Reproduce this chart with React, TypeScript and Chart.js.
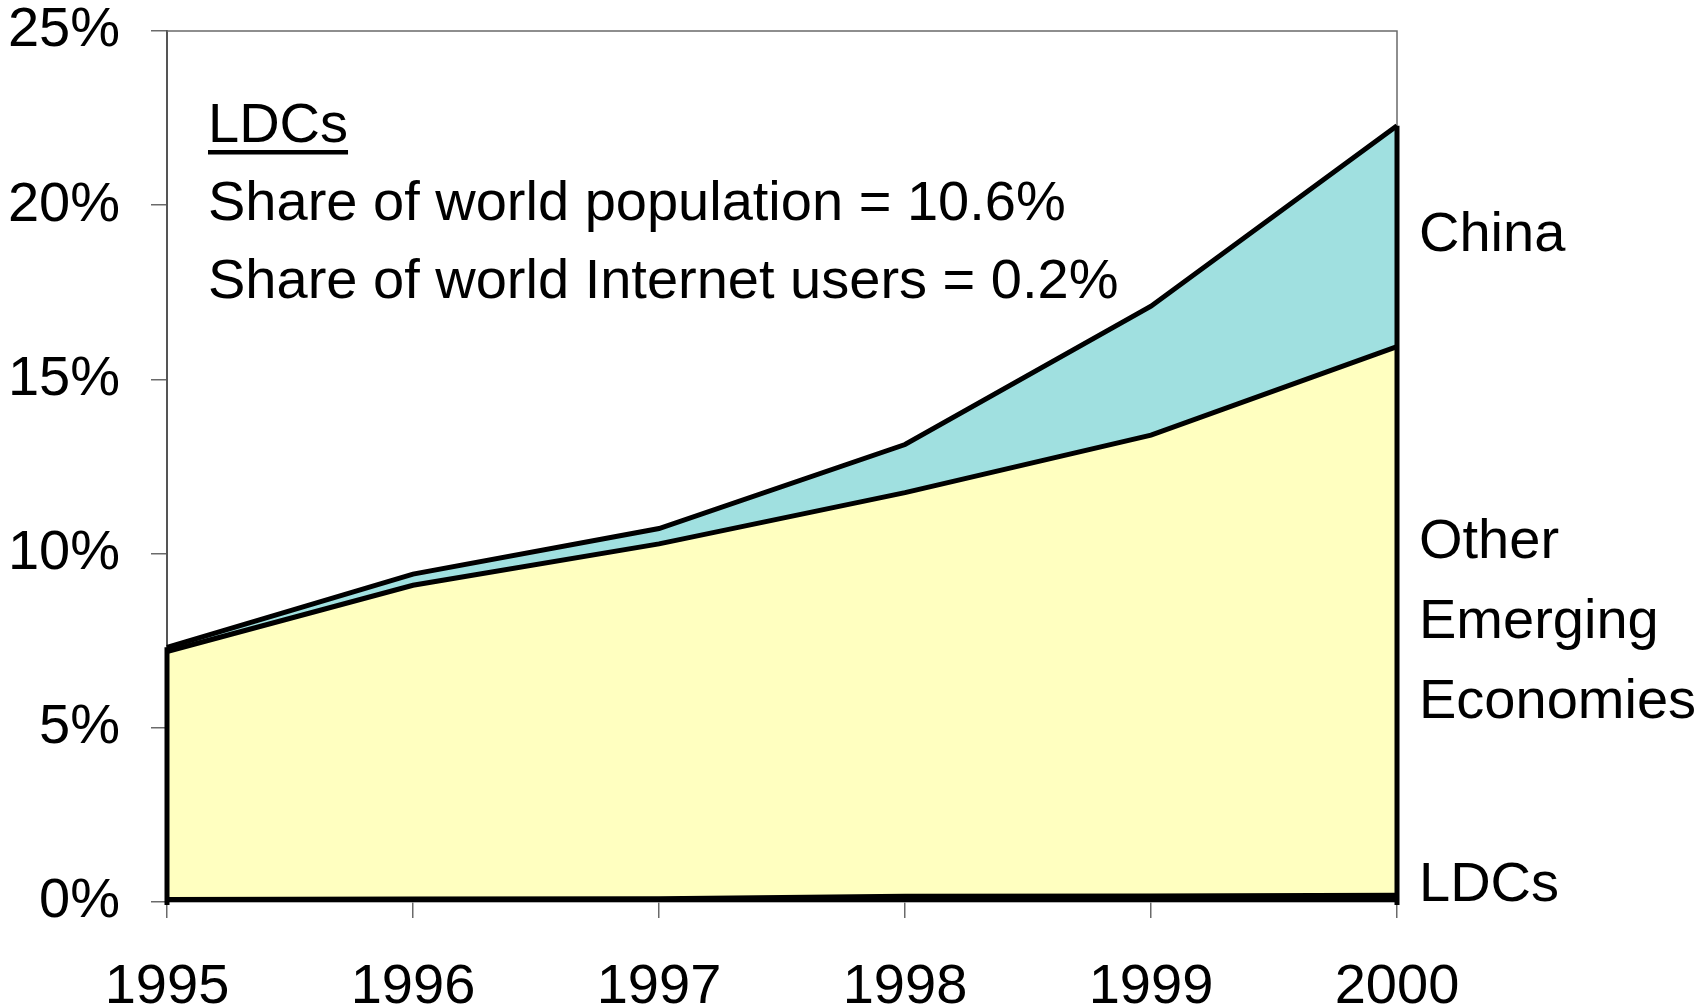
import React, { useEffect, useRef } from "react";
import { Chart, registerables } from "chart.js";

Chart.register(...registerables);

const years = ["1995", "1996", "1997", "1998", "1999", "2000"];
const ldcs = [0.03, 0.04, 0.05, 0.12, 0.13, 0.15];
const otherEmerging = [7.16, 9.05, 10.23, 11.63, 13.27, 15.79];
const china = [0.12, 0.32, 0.44, 1.38, 3.7, 6.34];
const yMax = 25;
const yStep = 5;

const noteTitle = "LDCs";
const noteLines = [
  "Share of world population = 10.6%",
  "Share of world Internet users = 0.2%",
];
const seriesLabels = [
  { text: ["China"], dy: 220 },
  { text: ["Other", "Emerging", "Economies"], dy: 527 },
  { text: ["LDCs"], dy: 870 },
];

const FONT = "'Liberation Sans', Arial, sans-serif";
const FS = 56;
const CANVAS_H = 1030;

const framePlugin = {
  id: "frame",
  beforeDatasetsDraw(chart: any) {
    const { ctx, chartArea: a } = chart;
    ctx.save();
    ctx.strokeStyle = "#6a6a6a";
    ctx.lineWidth = 1.5;
    ctx.beginPath();
    ctx.moveTo(a.left, a.top);
    ctx.lineTo(a.right, a.top);
    ctx.lineTo(a.right, a.bottom);
    ctx.stroke();
    ctx.restore();
  },
  afterDatasetsDraw(chart: any) {
    const { ctx } = chart;
    const xs = chart.scales.x;
    const ys = chart.scales.y;
    ctx.save();
    ctx.strokeStyle = "#000";
    ctx.lineWidth = 5;
    ctx.lineCap = "butt";
    [0, years.length - 1].forEach((i) => {
      const total = ldcs[i] + otherEmerging[i] + china[i];
      const px = xs.getPixelForValue(i);
      ctx.beginPath();
      ctx.moveTo(px, ys.getPixelForValue(0) + 3);
      ctx.lineTo(px, ys.getPixelForValue(total));
      ctx.stroke();
    });
    ctx.restore();
  },
  afterDraw(chart: any) {
    const { ctx, chartArea: a } = chart;
    ctx.save();
    ctx.fillStyle = "#000";
    ctx.font = `${FS}px ${FONT}`;
    ctx.textBaseline = "alphabetic";
    ctx.textAlign = "left";
    const nx = a.left + 41;
    const titleY = a.top + 111;
    ctx.fillText(noteTitle, nx, titleY);
    const w = ctx.measureText(noteTitle).width;
    ctx.fillRect(nx, titleY + 8, w, 4.5);
    noteLines.forEach((t, i) => ctx.fillText(t, nx, a.top + 189 + i * 78));
    const rx = a.right + 22;
    seriesLabels.forEach((lab) => {
      lab.text.forEach((t, i) => ctx.fillText(t, rx, a.top + lab.dy + i * 80));
    });
    ctx.restore();
  },
};

export default function App() {
  const ref = useRef<HTMLCanvasElement>(null);
  useEffect(() => {
    document.body.style.margin = "0";
    document.body.style.overflow = "hidden";
    const chart = new Chart(ref.current!, {
      type: "line",
      data: {
        labels: years,
        datasets: [
          {
            label: "LDCs",
            data: ldcs,
            fill: "origin",
            backgroundColor: "#000000",
            borderColor: "#000000",
            borderWidth: 8,
            pointRadius: 0,
            tension: 0,
          },
          {
            label: "Other Emerging Economies",
            data: otherEmerging,
            fill: "-1",
            backgroundColor: "#FFFFC0",
            borderColor: "#000000",
            borderWidth: 5,
            pointRadius: 0,
            tension: 0,
          },
          {
            label: "China",
            data: china,
            fill: "-1",
            backgroundColor: "#A0E0E0",
            borderColor: "#000000",
            borderWidth: 5,
            pointRadius: 0,
            tension: 0,
          },
        ],
      },
      options: {
        animation: false,
        responsive: true,
        maintainAspectRatio: false,
        layout: { autoPadding: false, padding: { left: 0, right: 311, top: 31, bottom: 0 } },
        plugins: { legend: { display: false }, tooltip: { enabled: false } },
        scales: {
          x: {
            offset: false,
            afterFit: (s: any) => {
              s.height = CANVAS_H - 902;
              s.paddingLeft = 0;
              s.paddingRight = 0;
            },
            grid: {
              display: true,
              drawOnChartArea: false,
              drawTicks: true,
              tickLength: 16,
              color: "#6a6a6a",
              lineWidth: 1.5,
            },
            border: { display: true, color: "#6a6a6a", width: 1.5 },
            ticks: {
              color: "#000",
              font: { family: FONT, size: FS, lineHeight: 1 },
              padding: 42,
              maxRotation: 0,
            },
          },
          y: {
            stacked: true,
            min: 0,
            max: yMax,
            afterFit: (s: any) => {
              s.width = 167;
              s.paddingTop = 0;
              s.paddingBottom = 0;
            },
            grid: {
              display: true,
              drawOnChartArea: false,
              drawTicks: true,
              tickLength: 16,
              color: "#6a6a6a",
              lineWidth: 1.5,
            },
            border: { display: true, color: "#555", width: 2 },
            ticks: {
              stepSize: yStep,
              color: "#000",
              font: { family: FONT, size: FS, lineHeight: 1 },
              padding: 31,
              callback: (v: any) => `${v}%`,
            },
          },
        },
      },
      plugins: [framePlugin],
    });
    return () => chart.destroy();
  }, []);
  return (
    <div style={{ width: 1708, height: CANVAS_H, position: "relative" }}>
      <canvas ref={ref} />
    </div>
  );
}
